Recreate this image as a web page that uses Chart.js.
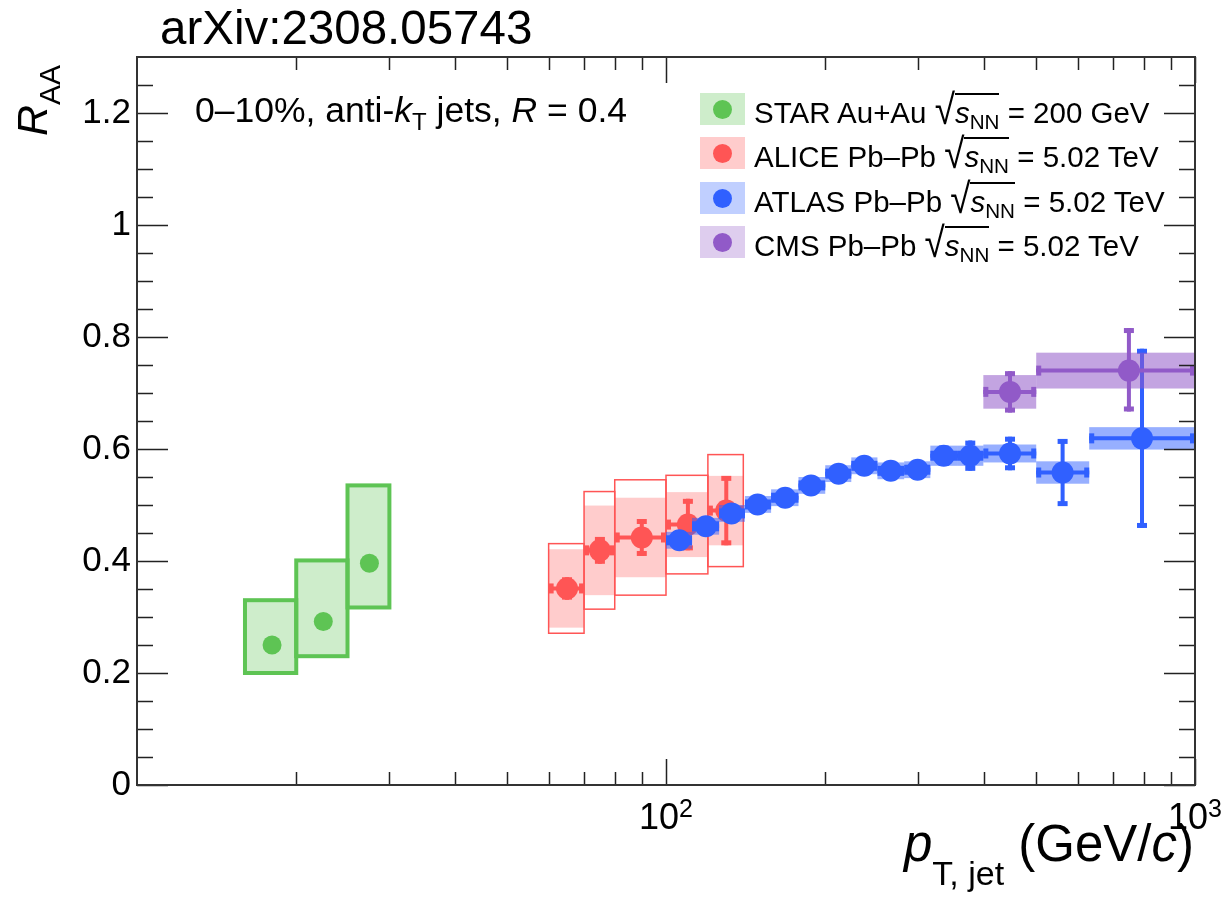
<!DOCTYPE html>
<html>
<head>
<meta charset="utf-8">
<script src="https://cdn.jsdelivr.net/npm/chart.js@4.4.0/dist/chart.umd.min.js"></script>
<style>
  html, body { margin: 0; padding: 0; background: #fff; }
  #wrap { position: relative; width: 1222px; height: 908px; font-family: "Liberation Sans", Arial, sans-serif; color: #000; overflow: hidden; }
  #c { position: absolute; left: 0; top: 0; }
  .txt { position: absolute; white-space: nowrap; line-height: 1; }
  .sb { position: relative; }
  .sq { font-size: 1.25em; display: inline-block; transform: scaleY(1.15); transform-origin: 50% 70%; }
  .ov { border-top: 2px solid #000; padding-top: 1px; }
  .ov sub { font-size: 0.7em; vertical-align: baseline; position: relative; top: 0.3em; }
  .lbox { position: absolute; left: 700px; width: 45px; height: 32px; }
  .dot { position: absolute; left: 13px; top: 7px; width: 19px; height: 19px; border-radius: 50%; }
  .ltxt { position: absolute; left: 754px; font-size: 29.5px; line-height: 1; white-space: nowrap; }
  .xlab { position: absolute; font-size: 36px; line-height: 1; white-space: nowrap; transform: translateX(-50%); }
  .xlab .ex { font-size: 25px; position: relative; top: -12px; }
</style>
</head>
<body>
<div id="wrap">
  <canvas id="c" width="1222" height="908"></canvas>

  <div class="txt" style="left:160px; top:4px; font-size:47.5px;">arXiv:2308.05743</div>

  <div class="txt" style="left:11px; top:136px; font-size:43px; transform-origin:0 0; transform:rotate(-90deg);"><i>R</i><span class="sb" style="font-size:30px; top:13px;">AA</span></div>

  <div class="txt" style="left:195px; top:93px; font-size:35.5px;">0–10%, anti-<i>k</i><span class="sb" style="font-size:24px; top:8px;">T</span> jets, <i>R</i> = 0.4</div>

  <div class="txt" style="right:28px; top:818px; font-size:51px;"><i>p</i><span class="sb" style="font-size:34px; top:24px;">T, jet</span> (GeV/<i>c</i>)</div>

  <div class="lbox" style="top:93px; background:rgba(94,196,84,0.3);"><div class="dot" style="background:#5ec454;"></div></div>
  <div class="ltxt" style="top:93px;">STAR Au+Au <span class="sq">√</span><span class="ov"><i>s</i><sub>NN</sub></span> = 200 GeV</div>

  <div class="lbox" style="top:137px; background:rgba(255,85,85,0.3);"><div class="dot" style="background:#ff5555;"></div></div>
  <div class="ltxt" style="top:137px;">ALICE Pb–Pb <span class="sq">√</span><span class="ov"><i>s</i><sub>NN</sub></span> = 5.02 TeV</div>

  <div class="lbox" style="top:182px; background:rgba(48,96,255,0.3);"><div class="dot" style="background:#3060ff;"></div></div>
  <div class="ltxt" style="top:182px;">ATLAS Pb–Pb <span class="sq">√</span><span class="ov"><i>s</i><sub>NN</sub></span> = 5.02 TeV</div>

  <div class="lbox" style="top:226px; background:rgba(145,90,200,0.3);"><div class="dot" style="background:#915ac8;"></div></div>
  <div class="ltxt" style="top:226px;">CMS Pb–Pb <span class="sq">√</span><span class="ov"><i>s</i><sub>NN</sub></span> = 5.02 TeV</div>
</div>

<script>
  // STAR Au+Au 200 GeV
  const starPt = [18, 22.5, 27.5];
  const starPtLo = [16, 20, 25];
  const starPtHi = [20, 25, 30];
  const starRaa = [0.25, 0.292, 0.396];
  const starSysLo = [0.2, 0.23, 0.317];
  const starSysHi = [0.33, 0.401, 0.535];

  // ALICE Pb-Pb 5.02 TeV
  const alicePt = [65, 75, 90, 110, 130];
  const alicePtLo = [60, 70, 80, 100, 120];
  const alicePtHi = [70, 80, 100, 120, 140];
  const aliceRaa = [0.351, 0.419, 0.442, 0.465, 0.49];
  const aliceStat = [0.02, 0.024, 0.033, 0.046, 0.062];
  const aliceSysShape = [0.07, 0.08, 0.071, 0.058, 0.062];
  const aliceSysCorr = [0.08, 0.105, 0.103, 0.088, 0.1];

  // ATLAS Pb-Pb 5.02 TeV
  const atlasPt = [106, 119, 133, 149, 168, 188, 212, 237, 266, 299, 335, 376, 447, 562, 794];
  const atlasPtLo = [100, 112, 126, 141, 158, 178, 200, 224, 251, 282, 316, 355, 398, 501, 631];
  const atlasPtHi = [112, 126, 141, 158, 178, 200, 224, 251, 282, 316, 355, 398, 501, 631, 1000];
  const atlasRaa = [0.437, 0.462, 0.485, 0.501, 0.513, 0.535, 0.556, 0.570, 0.561, 0.563, 0.588, 0.588, 0.592, 0.558, 0.619];
  const atlasStat = [0.008, 0.008, 0.008, 0.008, 0.008, 0.008, 0.008, 0.008, 0.008, 0.01, 0.018, 0.027, 0.03, 0.06, 0.16];
  const atlasSys = [0.015, 0.015, 0.015, 0.015, 0.015, 0.015, 0.015, 0.015, 0.015, 0.015, 0.018, 0.018, 0.016, 0.02, 0.02];

  // CMS Pb-Pb 5.02 TeV
  const cmsPt = [447, 750];
  const cmsPtLo = [398, 501];
  const cmsPtHi = [501, 1000];
  const cmsRaa = [0.702, 0.74];
  const cmsStatUp = [0.037, 0.076];
  const cmsStatDn = [0.037, 0.073];
  const cmsSys = [0.03, 0.032];

  // axis ticks
  const yLabelTicks = [0, 0.2, 0.4, 0.6, 0.8, 1, 1.2];
  const yMinorTicks = [0.05, 0.1, 0.15, 0.25, 0.3, 0.35, 0.45, 0.5, 0.55, 0.65, 0.7, 0.75,
                       0.85, 0.9, 0.95, 1.05, 1.1, 1.15, 1.25];
  const xLabelTicks = [100, 1000];
  const xLabelExp = ['2', '3'];
  const xMinorTicks = [20, 30, 40, 50, 60, 70, 80, 90, 200, 300, 400, 500, 600, 700, 800, 900];

  const GREEN = '#5ec454', RED = '#ff5555', BLUE = '#3060ff', PURPLE = '#915ac8';

  function pts(xs, ys) {
    return xs.map((x, i) => ({ x: x, y: ys[i] }));
  }

  function drawErrors(chart, ds) {
    const e = ds.err;
    if (!e) return;
    const ctx = chart.ctx;
    const a = chart.chartArea;
    const sx = chart.scales.x, sy = chart.scales.y;
    ctx.save();
    ctx.beginPath();
    ctx.rect(a.left, a.top, a.right - a.left, a.bottom - a.top);
    ctx.clip();

    ds.data.forEach((p, i) => {
      const x0 = sx.getPixelForValue(e.xLo[i]);
      const x1 = sx.getPixelForValue(e.xHi[i]);
      if (e.boxLo) {
        const yt = sy.getPixelForValue(e.boxHi[i]);
        const yb = sy.getPixelForValue(e.boxLo[i]);
        ctx.fillStyle = e.boxFill;
        ctx.fillRect(x0, yt, x1 - x0, yb - yt);
        if (e.boxLine) {
          ctx.strokeStyle = e.color;
          ctx.lineWidth = e.boxLine;
          ctx.strokeRect(x0, yt, x1 - x0, yb - yt);
        }
      }
      if (e.openLo) {
        const yt = sy.getPixelForValue(e.openHi[i]);
        const yb = sy.getPixelForValue(e.openLo[i]);
        ctx.strokeStyle = e.color;
        ctx.lineWidth = 1.5;
        ctx.strokeRect(x0, yt, x1 - x0, yb - yt);
      }
    });

    if (e.bars) {
      ctx.strokeStyle = e.color;
      ctx.fillStyle = e.color;
      ctx.lineWidth = 4;
      ds.data.forEach((p, i) => {
        const px = sx.getPixelForValue(p.x);
        const py = sy.getPixelForValue(p.y);
        const x0 = sx.getPixelForValue(e.xLo[i]);
        const x1 = sx.getPixelForValue(e.xHi[i]);
        const yt = sy.getPixelForValue(p.y + e.statHi[i]);
        const yb = sy.getPixelForValue(p.y - e.statLo[i]);
        ctx.beginPath();
        ctx.moveTo(x0, py); ctx.lineTo(x1, py);
        ctx.moveTo(px, yt); ctx.lineTo(px, yb);
        ctx.stroke();
        // end caps
        ctx.fillRect(x0, py - 5, 5, 10);
        ctx.fillRect(x1 - 5, py - 5, 5, 10);
        ctx.fillRect(px - 5, yt, 10, 5);
        ctx.fillRect(px - 5, yb - 5, 10, 5);
      });
    }
    ctx.restore();
  }

  const rootStyle = {
    id: 'rootStyle',
    beforeDatasetDraw(chart, args) {
      drawErrors(chart, chart.data.datasets[args.index]);
    },
    afterDraw(chart) {
      const ctx = chart.ctx;
      const a = chart.chartArea;
      const sx = chart.scales.x, sy = chart.scales.y;
      ctx.save();
      ctx.strokeStyle = '#222';
      ctx.lineWidth = 1.5;
      ctx.beginPath();
      yLabelTicks.forEach(v => {
        const py = Math.round(sy.getPixelForValue(v)) + 0.5;
        ctx.moveTo(a.left, py); ctx.lineTo(a.left + 31, py);
        ctx.moveTo(a.right, py); ctx.lineTo(a.right - 31, py);
      });
      yMinorTicks.forEach(v => {
        const py = Math.round(sy.getPixelForValue(v)) + 0.5;
        ctx.moveTo(a.left, py); ctx.lineTo(a.left + 16, py);
        ctx.moveTo(a.right, py); ctx.lineTo(a.right - 16, py);
      });
      xLabelTicks.forEach(v => {
        const px = Math.round(sx.getPixelForValue(v)) + 0.5;
        ctx.moveTo(px, a.bottom); ctx.lineTo(px, a.bottom - 26);
        ctx.moveTo(px, a.top); ctx.lineTo(px, a.top + 26);
      });
      xMinorTicks.forEach(v => {
        const px = Math.round(sx.getPixelForValue(v)) + 0.5;
        ctx.moveTo(px, a.bottom); ctx.lineTo(px, a.bottom - 13);
        ctx.moveTo(px, a.top); ctx.lineTo(px, a.top + 13);
      });
      ctx.stroke();
      ctx.strokeStyle = '#333';
      ctx.lineWidth = 2;
      ctx.strokeRect(a.left, a.top, a.right - a.left, a.bottom - a.top);
      ctx.restore();
    }
  };

  Chart.defaults.font.family = "'Liberation Sans', Arial, sans-serif";
  Chart.defaults.color = '#000';

  const chart = new Chart(document.getElementById('c'), {
    type: 'scatter',
    data: {
      datasets: [
        {
          label: 'STAR Au+Au',
          data: pts(starPt, starRaa),
          order: 4,
          pointRadius: 9.5,
          pointBackgroundColor: GREEN,
          pointBorderWidth: 0,
          err: {
            color: GREEN, xLo: starPtLo, xHi: starPtHi,
            boxLo: starSysLo, boxHi: starSysHi,
            boxFill: 'rgba(94,196,84,0.3)', boxLine: 4, bars: false
          }
        },
        {
          label: 'ALICE Pb-Pb',
          data: pts(alicePt, aliceRaa),
          order: 3,
          pointRadius: 11,
          pointBackgroundColor: RED,
          pointBorderWidth: 0,
          err: {
            color: RED, xLo: alicePtLo, xHi: alicePtHi,
            boxLo: aliceRaa.map((v, i) => v - aliceSysShape[i]),
            boxHi: aliceRaa.map((v, i) => v + aliceSysShape[i]),
            boxFill: 'rgba(255,85,85,0.3)',
            openLo: aliceRaa.map((v, i) => v - aliceSysCorr[i]),
            openHi: aliceRaa.map((v, i) => v + aliceSysCorr[i]),
            statLo: aliceStat, statHi: aliceStat, bars: true
          }
        },
        {
          label: 'ATLAS Pb-Pb',
          data: pts(atlasPt, atlasRaa),
          order: 2,
          pointRadius: 11,
          pointBackgroundColor: BLUE,
          pointBorderWidth: 0,
          err: {
            color: BLUE, xLo: atlasPtLo, xHi: atlasPtHi,
            boxLo: atlasRaa.map((v, i) => v - atlasSys[i]),
            boxHi: atlasRaa.map((v, i) => v + atlasSys[i]),
            boxFill: 'rgba(48,96,255,0.5)',
            statLo: atlasStat, statHi: atlasStat, bars: true
          }
        },
        {
          label: 'CMS Pb-Pb',
          data: pts(cmsPt, cmsRaa),
          order: 1,
          pointRadius: 11,
          pointBackgroundColor: PURPLE,
          pointBorderWidth: 0,
          err: {
            color: PURPLE, xLo: cmsPtLo, xHi: cmsPtHi,
            boxLo: cmsRaa.map((v, i) => v - cmsSys[i]),
            boxHi: cmsRaa.map((v, i) => v + cmsSys[i]),
            boxFill: 'rgba(145,90,200,0.55)',
            statLo: cmsStatDn, statHi: cmsStatUp, bars: true
          }
        }
      ]
    },
    options: {
      responsive: false,
      devicePixelRatio: 1,
      animation: false,
      layout: { padding: { top: 57, right: 27, left: 0, bottom: 0 } },
      plugins: {
        legend: { display: false },
        tooltip: { enabled: false }
      },
      scales: {
        x: {
          type: 'logarithmic',
          min: 10,
          max: 1000,
          grid: { display: false, drawTicks: false },
          border: { display: false },
          afterBuildTicks: scale => { scale.ticks = xLabelTicks.map(v => ({ value: v })); },
          afterFit: scale => {
            scale.height = 123;
            scale.paddingLeft = 0;
            scale.paddingRight = 0;
          },
          ticks: { display: false }
        },
        y: {
          min: 0,
          max: 1.3,
          grid: { display: false, drawTicks: false },
          border: { display: false },
          afterBuildTicks: scale => { scale.ticks = yLabelTicks.map(v => ({ value: v })); },
          afterFit: scale => {
            scale.width = 137;
            scale.paddingTop = 0;
            scale.paddingBottom = 0;
          },
          ticks: {
            padding: 6,
            font: { size: 35 },
            callback: v => String(Number(v.toFixed(2)))
          }
        }
      }
    },
    plugins: [rootStyle]
  });

  // x tick labels as 10^n, placed through the x scale
  const wrap = document.getElementById('wrap');
  xLabelTicks.forEach((v, i) => {
    const d = document.createElement('div');
    d.className = 'xlab';
    d.style.left = chart.scales.x.getPixelForValue(v) + 'px';
    d.style.top = (chart.chartArea.bottom + 14) + 'px';
    d.innerHTML = '10<span class="ex">' + xLabelExp[i] + '</span>';
    wrap.appendChild(d);
  });
</script>
</body>
</html>
